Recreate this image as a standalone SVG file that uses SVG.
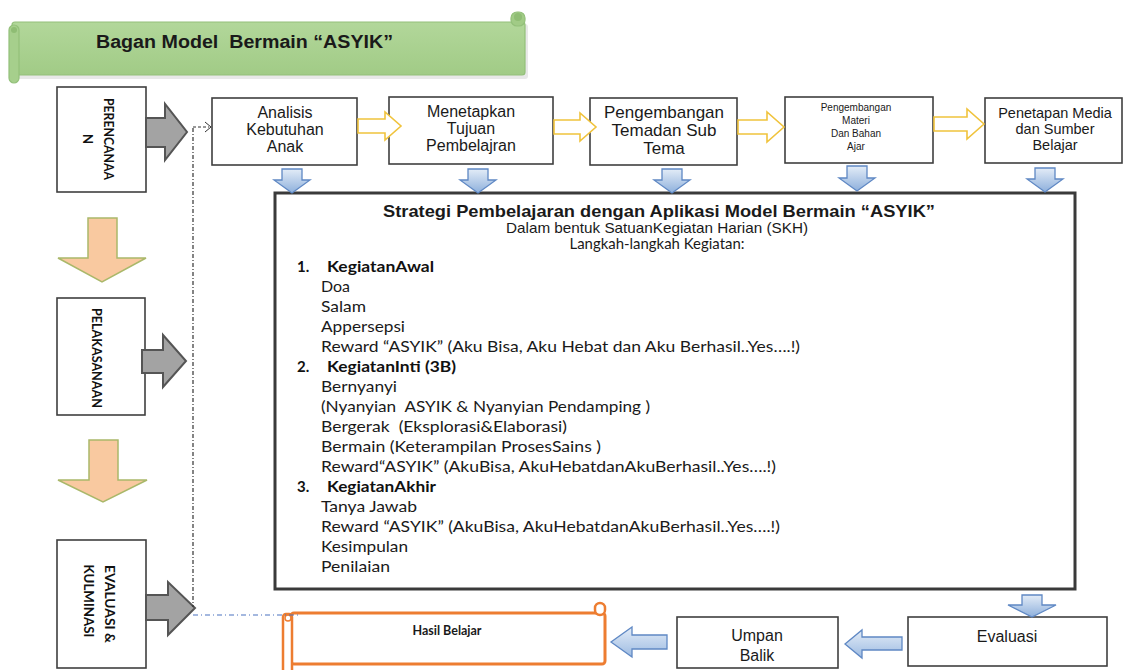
<svg xmlns="http://www.w3.org/2000/svg" width="1126" height="670" viewBox="0 0 1126 670">
<defs>
<linearGradient id="blueG" x1="0" y1="0" x2="0" y2="1">
<stop offset="0" stop-color="#e3ecf7"/><stop offset="1" stop-color="#8eb0dc"/>
</linearGradient>
<linearGradient id="blueH" x1="0" y1="0" x2="0" y2="1">
<stop offset="0" stop-color="#e3ecf7"/><stop offset="1" stop-color="#9dbbe2"/>
</linearGradient>
<linearGradient id="greenG" x1="0" y1="0" x2="0" y2="1">
<stop offset="0" stop-color="#b2d79a"/><stop offset="1" stop-color="#a1cb86"/>
</linearGradient>
<style>
text{white-space:pre}
.box{fill:#fff;stroke:#3f3f3f;stroke-width:1.6}
.big{fill:#fff;stroke:#3a3a3a;stroke-width:3}
.gray{fill:#a3a3a3;stroke:#555;stroke-width:2}
.peach{fill:#f9c9a0;stroke:#aab86a;stroke-width:1.5}
.yel{fill:#fff;stroke:#f0c33c;stroke-width:1.6}
.blue{fill:url(#blueG);stroke:#5f88c4;stroke-width:1.3}
.blueh{fill:url(#blueH);stroke:#5f88c4;stroke-width:1.3}
.ar{font-family:"Liberation Sans",Arial,sans-serif;fill:#1a1a1a}
.ca{font-family:Lato,"Open Sans",sans-serif;fill:#1a1a1a}
.side{font-family:Lato,"Open Sans",sans-serif;font-weight:bold;font-size:13px;fill:#111}
.li{font-family:Lato,"Open Sans",sans-serif;font-size:15px;fill:#1a1a1a}
.lb{font-family:Lato,"Open Sans",sans-serif;font-size:15px;font-weight:bold;fill:#111}
</style>
</defs>
<rect width="1126" height="670" fill="#fff"/>

<!-- Title banner -->
<g id="title">
<rect x="14" y="24" width="514" height="55" rx="3" fill="#d9d9d9" opacity="0.6"/>
<rect x="12" y="22" width="513" height="53" rx="3" fill="url(#greenG)" stroke="#93c07a" stroke-width="1.2"/>
<rect x="511" y="12" width="14" height="14" rx="6" fill="#a1cb86" stroke="#93c07a" stroke-width="1.2"/>
<circle cx="518" cy="17" r="4" fill="#8fbd74"/>
<rect x="9" y="25" width="10" height="58" rx="5" fill="#a6cf8c" stroke="#93c07a" stroke-width="1.2"/>
<circle cx="14" cy="30" r="3" fill="#8fbd74"/>
<text class="ar" x="96" y="48" font-size="18" font-weight="bold" textLength="297" lengthAdjust="spacingAndGlyphs">Bagan Model  Bermain “ASYIK”</text>
</g>

<!-- Left phase boxes -->
<g id="perencanaan">
<rect class="box" x="57" y="87" width="89" height="105"/>
<text class="side" transform="translate(104,139) rotate(90)" text-anchor="middle" textLength="82" lengthAdjust="spacingAndGlyphs">PERENCANAA</text>
<text class="side" transform="translate(83,139) rotate(90)" text-anchor="middle">N</text>
</g>
<g id="pelaksanaan">
<rect class="box" x="57" y="298" width="88" height="117"/>
<text class="side" transform="translate(92,358) rotate(90)" text-anchor="middle" textLength="100" lengthAdjust="spacingAndGlyphs">PELAKASANAAN</text>
</g>
<g id="evaluasi-kulminasi">
<rect class="box" x="57" y="540" width="89" height="128"/>
<text class="side" transform="translate(105,604) rotate(90)" text-anchor="middle" textLength="78" lengthAdjust="spacingAndGlyphs">EVALUASI &amp;</text>
<text class="side" transform="translate(84,601) rotate(90)" text-anchor="middle" textLength="73" lengthAdjust="spacingAndGlyphs">KULMINASI</text>
</g>

<!-- Top row boxes -->
<g id="analisis">
<rect class="box" x="212" y="98" width="145" height="67"/>
<text class="ar" font-size="16" text-anchor="middle"><tspan x="285" y="118">Analisis</tspan><tspan x="285" y="135">Kebutuhan</tspan><tspan x="285" y="152">Anak</tspan></text>
</g>
<g id="tujuan">
<rect class="box" x="389" y="97" width="164" height="67"/>
<text class="ar" font-size="16" text-anchor="middle"><tspan x="471" y="117">Menetapkan</tspan><tspan x="471" y="134">Tujuan</tspan><tspan x="471" y="151">Pembelajran</tspan></text>
</g>
<g id="tema">
<rect class="box" x="590" y="98" width="147" height="67"/>
<text class="ar" font-size="17" text-anchor="middle"><tspan x="664" y="118">Pengembangan</tspan><tspan x="664" y="136">Temadan Sub</tspan><tspan x="664" y="154">Tema</tspan></text>
</g>
<g id="materi">
<rect class="box" x="785" y="97" width="148" height="66"/>
<text class="ar" font-size="10" text-anchor="middle"><tspan x="856" y="111">Pengembangan</tspan><tspan x="856" y="124">Materi</tspan><tspan x="856" y="137">Dan Bahan</tspan><tspan x="856" y="150">Ajar</tspan></text>
</g>
<g id="media">
<rect class="box" x="985" y="98" width="137" height="65"/>
<text class="ar" font-size="14.5" text-anchor="middle"><tspan x="1055" y="118">Penetapan Media</tspan><tspan x="1055" y="134">dan Sumber</tspan><tspan x="1055" y="150">Belajar</tspan></text>
</g>

<!-- Big strategy box -->
<g id="strategi">
<rect class="big" x="275" y="193" width="800" height="396"/>
<text class="ar" x="659" y="217" font-size="17" font-weight="bold" text-anchor="middle" textLength="552" lengthAdjust="spacingAndGlyphs">Strategi Pembelajaran dengan Aplikasi Model Bermain “ASYIK”</text>
<text class="ar" x="657" y="233" font-size="14.5" text-anchor="middle" textLength="302" lengthAdjust="spacingAndGlyphs">Dalam bentuk SatuanKegiatan Harian (SKH)</text>
<text class="ca" x="657" y="249" font-size="15" text-anchor="middle" textLength="175" lengthAdjust="spacingAndGlyphs">Langkah-langkah Kegiatan:</text>
<text class="lb" x="297" y="272">1.</text><text class="lb" x="327" y="272" textLength="107" lengthAdjust="spacingAndGlyphs">KegiatanAwal</text>
<text class="li" x="321" y="292" textLength="29" lengthAdjust="spacingAndGlyphs">Doa</text>
<text class="li" x="321" y="312" textLength="45" lengthAdjust="spacingAndGlyphs">Salam</text>
<text class="li" x="321" y="332" textLength="84" lengthAdjust="spacingAndGlyphs">Appersepsi</text>
<text class="li" x="321" y="352" textLength="479" lengthAdjust="spacingAndGlyphs">Reward “ASYIK” (Aku Bisa, Aku Hebat dan Aku Berhasil..Yes….!)</text>
<text class="lb" x="297" y="372">2.</text><text class="lb" x="327" y="372" textLength="129" lengthAdjust="spacingAndGlyphs">KegiatanInti (3B)</text>
<text class="li" x="321" y="392" textLength="76" lengthAdjust="spacingAndGlyphs">Bernyanyi</text>
<text class="li" x="321" y="412" textLength="329" lengthAdjust="spacingAndGlyphs">(Nyanyian  ASYIK &amp; Nyanyian Pendamping )</text>
<text class="li" x="321" y="432" textLength="246" lengthAdjust="spacingAndGlyphs">Bergerak  (Eksplorasi&amp;Elaborasi)</text>
<text class="li" x="321" y="452" textLength="280" lengthAdjust="spacingAndGlyphs">Bermain (Keterampilan ProsesSains )</text>
<text class="li" x="321" y="472" textLength="455" lengthAdjust="spacingAndGlyphs">Reward“ASYIK” (AkuBisa, AkuHebatdanAkuBerhasil..Yes….!)</text>
<text class="lb" x="297" y="492">3.</text><text class="lb" x="327" y="492" textLength="109" lengthAdjust="spacingAndGlyphs">KegiatanAkhir</text>
<text class="li" x="321" y="512" textLength="96" lengthAdjust="spacingAndGlyphs">Tanya Jawab</text>
<text class="li" x="321" y="532" textLength="459" lengthAdjust="spacingAndGlyphs">Reward “ASYIK” (AkuBisa, AkuHebatdanAkuBerhasil..Yes….!)</text>
<text class="li" x="321" y="552" textLength="87" lengthAdjust="spacingAndGlyphs">Kesimpulan</text>
<text class="li" x="321" y="572" textLength="69" lengthAdjust="spacingAndGlyphs">Penilaian</text>
</g>

<!-- Bottom row -->
<g id="hasil-belajar">
<rect x="291" y="613" width="314" height="51" rx="3" fill="#fff" stroke="#ed7d31" stroke-width="3"/>
<rect x="595" y="603" width="10" height="12" rx="5" fill="#fff" stroke="#ed7d31" stroke-width="2.5"/>
<rect x="283" y="614" width="9" height="62" rx="3" fill="#fff" stroke="#ed7d31" stroke-width="2.5"/>
<circle cx="288" cy="618" r="3" fill="none" stroke="#ed7d31" stroke-width="1.5"/>
<text class="ca" x="447" y="635" font-size="12.5" font-weight="bold" text-anchor="middle">Hasil Belajar</text>
</g>
<g id="umpan-balik">
<rect class="box" x="677" y="617" width="161" height="51"/>
<text class="ar" font-size="16" text-anchor="middle"><tspan x="757" y="641">Umpan</tspan><tspan x="757" y="661">Balik</tspan></text>
</g>
<g id="evaluasi">
<rect class="box" x="908" y="617" width="199" height="49"/>
<text class="ar" x="1007" y="642" font-size="16" text-anchor="middle">Evaluasi</text>
</g>

<!-- Connectors -->
<g id="connectors">
<polygon class="gray" points="146,118 165,118 165,104 187,132 165,160 165,147 146,147"/>
<polygon class="gray" points="142,350 163,350 163,335 186,361 163,387 163,373 142,373"/>
<polygon class="gray" points="146,595 168,595 168,582 195,608 168,635 168,620 146,620"/>
<polygon class="peach" points="88,218 117,218 117,258 146,258 102,282 58,258 88,258"/>
<polygon class="peach" points="89,440 118,440 118,480 147,480 103,502 58,480 89,480"/>
<polygon class="yel" points="358,119 385,119 385,112 401,126 385,140 385,133 358,133"/>
<polygon class="yel" points="554,120 580,120 580,113 596,127 580,141 580,134 554,134"/>
<polygon class="yel" points="738,120 767,120 767,112 784,127 767,142 767,134 738,134"/>
<polygon class="yel" points="934,117 967,117 967,109 984,124 967,139 967,131 934,131"/>
<polygon class="blue" points="282,169 302,169 302,180 310,180 292,193 274,180 282,180"/>
<polygon class="blue" points="468,169 488,169 488,180 496,180 478,193 460,180 468,180"/>
<polygon class="blue" points="662,169 682,169 682,180 690,180 672,193 654,180 662,180"/>
<polygon class="blue" points="847,166 867,166 867,178 875,178 857,191 839,178 847,178"/>
<polygon class="blue" points="1035,168 1055,168 1055,179 1063,179 1045,192 1027,179 1035,179"/>
<polygon class="blue" points="1022,595 1042,595 1042,605 1056,605 1032,617 1008,605 1022,605"/>
<polygon class="blueh" points="902,637 862,637 862,630 845,644 862,658 862,650 902,650"/>
<polygon class="blueh" points="667,635 632,635 632,627 611,642 632,657 632,649 667,649"/>
<path d="M193,128 V607" fill="none" stroke="#333" stroke-width="1.2" stroke-dasharray="4,2,1,2"/>
<path d="M193,127 H209" fill="none" stroke="#333" stroke-width="1" stroke-dasharray="3,2"/>
<path d="M205,122 L211,127 L205,132" fill="none" stroke="#333" stroke-width="1"/>
<path d="M193,615 H298" fill="none" stroke="#4a72c0" stroke-width="1.2" stroke-dasharray="5,3,1,3"/>
</g>
</svg>
